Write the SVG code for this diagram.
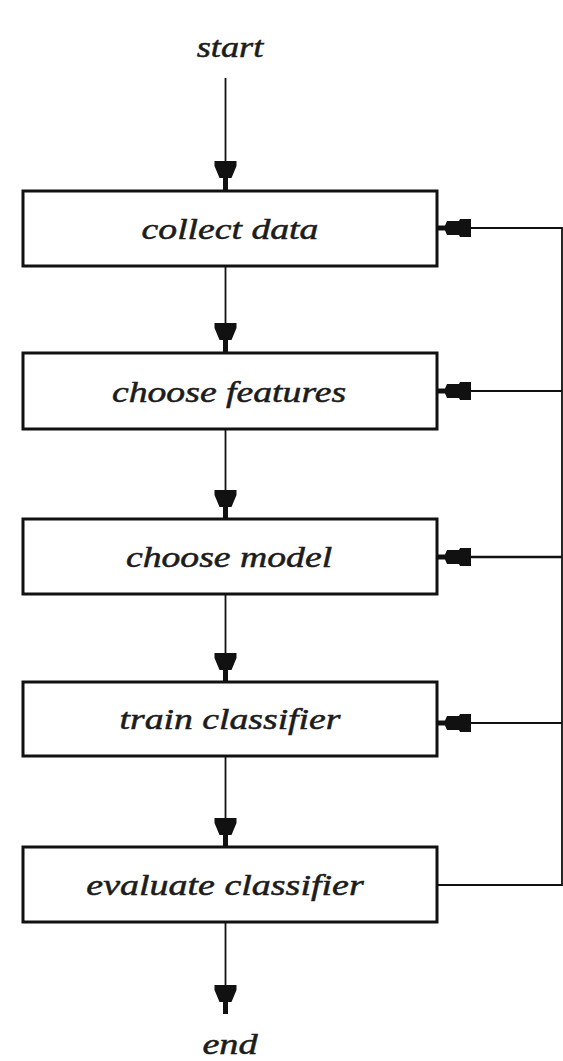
<svg xmlns="http://www.w3.org/2000/svg" width="563" height="1061" viewBox="0 0 563 1061">
<style>
.box{fill:none;stroke:#111;stroke-width:3}
.ln{fill:none;stroke:#111;stroke-width:1.8}
.lbl{font-family:"Liberation Serif",serif;font-style:italic;font-size:29px;fill:#1c1c1c;stroke:#1c1c1c;stroke-width:0.5;text-anchor:middle}
</style>
<defs>
<path id="ad" d="M-11,-29 H11 V-24 L6,-12 H2.5 V0 H-2.5 V-12 H-6 L-11,-24 Z" fill="#111"/>
<path id="al" d="M0,-2.5 H8 L10,-7 H22 L23,-9 H34 V9 H23 L22,7 H10 L8,2.5 H0 Z" fill="#111"/>
</defs>
<rect width="563" height="1061" fill="#fff"/>
<g id="connectors">
<line class="ln" x1="225.5" y1="78" x2="225.5" y2="190"/>
<use href="#ad" x="225.5" y="190"/>
<line class="ln" x1="225.5" y1="266" x2="225.5" y2="352"/>
<use href="#ad" x="225.5" y="352"/>
<line class="ln" x1="225.5" y1="429" x2="225.5" y2="519"/>
<use href="#ad" x="225.5" y="519"/>
<line class="ln" x1="225.5" y1="594" x2="225.5" y2="682"/>
<use href="#ad" x="225.5" y="682"/>
<line class="ln" x1="225.5" y1="756" x2="225.5" y2="847"/>
<use href="#ad" x="225.5" y="847"/>
<line class="ln" x1="225.5" y1="922" x2="225.5" y2="1014"/>
<use href="#ad" x="225.5" y="1014"/>
<polyline class="ln" points="437,885 562,885 562,228 437,228"/>
<line class="ln" x1="437" y1="391" x2="562" y2="391"/>
<line class="ln" x1="437" y1="557" x2="562" y2="557" style="stroke-width:2.4"/>
<line class="ln" x1="437" y1="723" x2="562" y2="723"/>
<use href="#al" x="437" y="228"/>
<use href="#al" x="437" y="391"/>
<use href="#al" x="437" y="557"/>
<use href="#al" x="437" y="723"/>
</g>
<g id="start"><text class="lbl" transform="translate(230,57) scale(1.25,1)">start</text></g>
<g id="collect-data"><rect class="box" x="23" y="191" width="414" height="75"/><text class="lbl" transform="translate(230,239) scale(1.3,1)">collect data</text></g>
<g id="choose-features"><rect class="box" x="23" y="353" width="414" height="76"/><text class="lbl" transform="translate(229,402) scale(1.3,1)">choose features</text></g>
<g id="choose-model"><rect class="box" x="23" y="519" width="414" height="75"/><text class="lbl" transform="translate(229,567) scale(1.3,1)">choose model</text></g>
<g id="train-classifier"><rect class="box" x="23" y="682" width="414" height="74"/><text class="lbl" transform="translate(230,729) scale(1.3,1)">train classifier</text></g>
<g id="evaluate-classifier"><rect class="box" x="23" y="847" width="414" height="75"/><text class="lbl" transform="translate(225,895) scale(1.31,1)">evaluate classifier</text></g>
<g id="end"><text class="lbl" transform="translate(230,1054) scale(1.32,1)">end</text></g>
</svg>
